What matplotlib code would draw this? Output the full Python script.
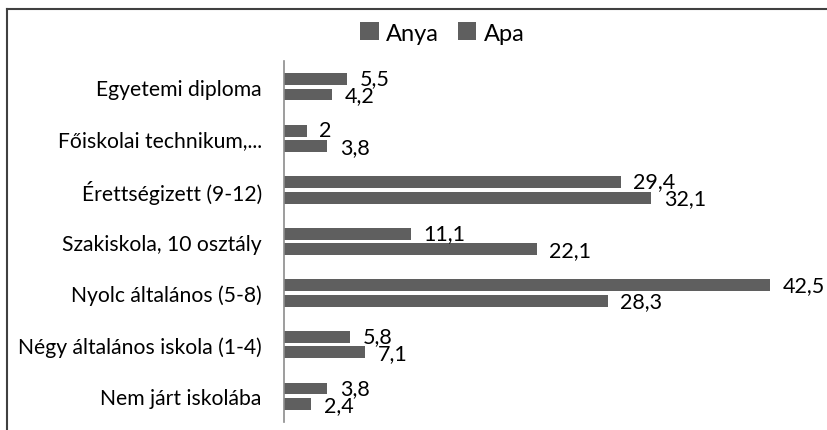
import matplotlib.pyplot as plt
import numpy as np

categories = ['Egyetemi diploma', 'Főiskolai technikum,...', 'Érettségizett (9-12)',
              'Szakiskola, 10 osztály', 'Nyolc általános (5-8)',
              'Négy általános iskola (1-4)', 'Nem járt iskolába']
anya = [5.5, 2, 29.4, 11.1, 42.5, 5.8, 3.8]
apa = [4.2, 3.8, 32.1, 22.1, 28.3, 7.1, 2.4]
series_names = ['Anya', 'Apa']

plt.rcParams['font.family'] = ['Lato', 'DejaVu Sans']
bar_color = '#5f5f5f'

fig = plt.figure(figsize=(8.28, 4.31), dpi=100)
ax = fig.add_axes([284 / 828, 1 - 423 / 431, (822 - 284) / 828, (423 - 62) / 431])

y = np.arange(len(categories))
h = 0.23
gap = 0.07
b1 = ax.barh(y - h / 2 - gap / 2, anya, height=h, color=bar_color, label=series_names[0])
b2 = ax.barh(y + h / 2 + gap / 2, apa, height=h, color=bar_color, label=series_names[1])

def fmt(v):
    s = ('%g' % v).replace('.', ',')
    return s

for bars, vals, dy in ((b1, anya, 0.5), (b2, apa, -0.5)):
    for bar, v in zip(bars, vals):
        ax.annotate(fmt(v), (v, bar.get_y() + bar.get_height() / 2),
                    xytext=(9, dy), textcoords='offset points',
                    va='center', ha='left', fontsize=15.5)

ax.set_xlim(0, 47)
ax.set_ylim(len(categories) - 0.5, -0.5)
ax.set_yticks(y)
ax.set_yticklabels(categories, fontsize=15.2)
ax.tick_params(axis='y', length=0, pad=16)
ax.set_xticks([])
for s in ['top', 'right', 'bottom']:
    ax.spines[s].set_visible(False)
ax.spines['left'].set_color('#8c8c8c')
ax.spines['left'].set_linewidth(1.2)

fig.legend(handles=[b1, b2], labels=series_names, loc='center', bbox_to_anchor=(442 / 828, 1 - 34 / 431),
           ncol=2, frameon=False, fontsize=17, handlelength=0.8, handleheight=0.8,
           handletextpad=0.3, columnspacing=0.8)

# outer frame (top and left only, the rest is cropped)
fig.add_artist(plt.Line2D([7 / 828, 1], [1 - 10 / 431, 1 - 10 / 431], color='#404040', lw=1.5))
fig.add_artist(plt.Line2D([7 / 828, 7 / 828], [1 - 10 / 431, 0], color='#404040', lw=1.5))

fig.savefig('out.png', dpi=100)
